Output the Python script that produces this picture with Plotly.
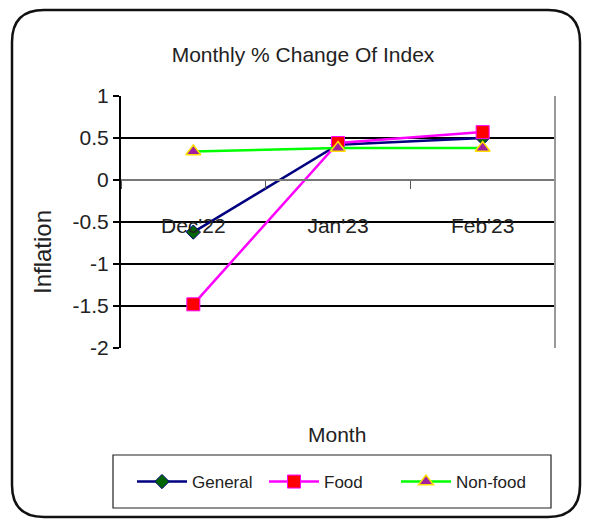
import plotly.graph_objects as go

months = ["Dec'22", "Jan'23", "Feb'23"]
general = [-0.62, 0.42, 0.50]
food = [-1.48, 0.44, 0.57]
nonfood = [0.34, 0.38, 0.38]
y_ticks = [-2, -1.5, -1, -0.5, 0, 0.5, 1]

# the page body adds an 8px margin; work in screen pixels and convert
OFF = 8
W, H = 592 - OFF, 520 - OFF
SL, SR, ST, SB = 121, 555, 96, 348  # plot area in screen pixels
L, R, T, B = SL - OFF, SR - OFF, ST - OFF, SB - OFF

def px(x):
    return (x - SL) / (SR - SL)

def py(y):
    return (SB - y) / (SB - ST)

FONT = "Liberation Sans, Arial, sans-serif"
TXT = "#222"

fig = go.Figure()
fig.add_trace(go.Scatter(
    x=months, y=general, name="General", mode="lines+markers",
    line=dict(color="#000080", width=2.5),
    marker=dict(symbol="diamond", size=11, color="#006400", line=dict(color="#000080", width=1))))
fig.add_trace(go.Scatter(
    x=months, y=food, name="Food", mode="lines+markers",
    line=dict(color="#FF00FF", width=2.5),
    marker=dict(symbol="square", size=13, color="#FF0000", line=dict(color="#FF00FF", width=1))))
fig.add_trace(go.Scatter(
    x=months, y=nonfood, name="Non-food", mode="lines+markers",
    line=dict(color="#00FF00", width=2.5),
    marker=dict(symbol="triangle-up", size=13, color="#A020A0", line=dict(color="#FFE000", width=1.5))))

# rounded outer frame
x0, x1, y0, y1 = px(12), px(580), py(517), py(10)
rx, ry = 32 / (SR - SL), 32 / (SB - ST)
path = (f"M {x0+rx} {y1} L {x1-rx} {y1} Q {x1} {y1} {x1} {y1-ry} "
        f"L {x1} {y0+ry} Q {x1} {y0} {x1-rx} {y0} "
        f"L {x0+rx} {y0} Q {x0} {y0} {x0} {y0+ry} "
        f"L {x0} {y1-ry} Q {x0} {y1} {x0+rx} {y1} Z")

shapes = [
    dict(type="path", xref="paper", yref="paper", path=path,
         line=dict(color="#111", width=2.5)),
    dict(type="line", xref="paper", yref="paper", x0=1, x1=1, y0=0, y1=1,
         line=dict(color="#999", width=2)),
    dict(type="rect", xref="paper", yref="paper", x0=px(113), x1=px(551),
         y0=py(508), y1=py(455), line=dict(color="#222", width=1.2)),
]

fig.update_layout(
    width=W, height=H,
    margin=dict(l=L, r=W - R, t=T, b=H - B, autoexpand=False),
    paper_bgcolor="white", plot_bgcolor="white",
    font=dict(family=FONT, size=21, color=TXT),
    title=dict(text="Monthly % Change Of Index", x=(303 - OFF) / W, xanchor="center",
               y=1 - (55 - OFF) / H, yanchor="middle", font=dict(size=21, color=TXT)),
    xaxis=dict(type="category", range=[-0.5, 2.5], tickson="boundaries",
               anchor="free", position=2 / 3, showline=True, linecolor="#777", linewidth=2,
               ticks="outside", ticklen=8, tickcolor="#555", tickwidth=1,
               ticklabelstandoff=27, showgrid=False, zeroline=False,
               tickfont=dict(size=21, color=TXT)),
    yaxis=dict(range=[-2, 1], tickvals=y_ticks, ticktext=[str(v) for v in y_ticks],
               showgrid=True, gridcolor="#000", gridwidth=2,
               showline=True, linecolor="#000", linewidth=2,
               ticks="outside", ticklen=6, tickcolor="#000", tickwidth=2,
               zeroline=False, tickfont=dict(size=21, color=TXT)),
    legend=dict(orientation="h", x=px(132), xanchor="left", y=py(482), yanchor="middle",
                borderwidth=0, bgcolor="rgba(0,0,0,0)",
                font=dict(size=17, color=TXT), itemwidth=50, entrywidth=67,
                tracegroupgap=0),
    shapes=shapes,
    annotations=[
        dict(text="Inflation", xref="paper", yref="paper", x=px(42), y=py(252),
             xanchor="center", yanchor="middle",
             textangle=-90, showarrow=False, font=dict(size=24, color=TXT)),
        dict(text="Month", xref="paper", yref="paper", x=px(337), y=py(434),
             xanchor="center", yanchor="middle",
             showarrow=False, font=dict(size=21, color=TXT)),
    ],
)

fig.write_html("out.html")
